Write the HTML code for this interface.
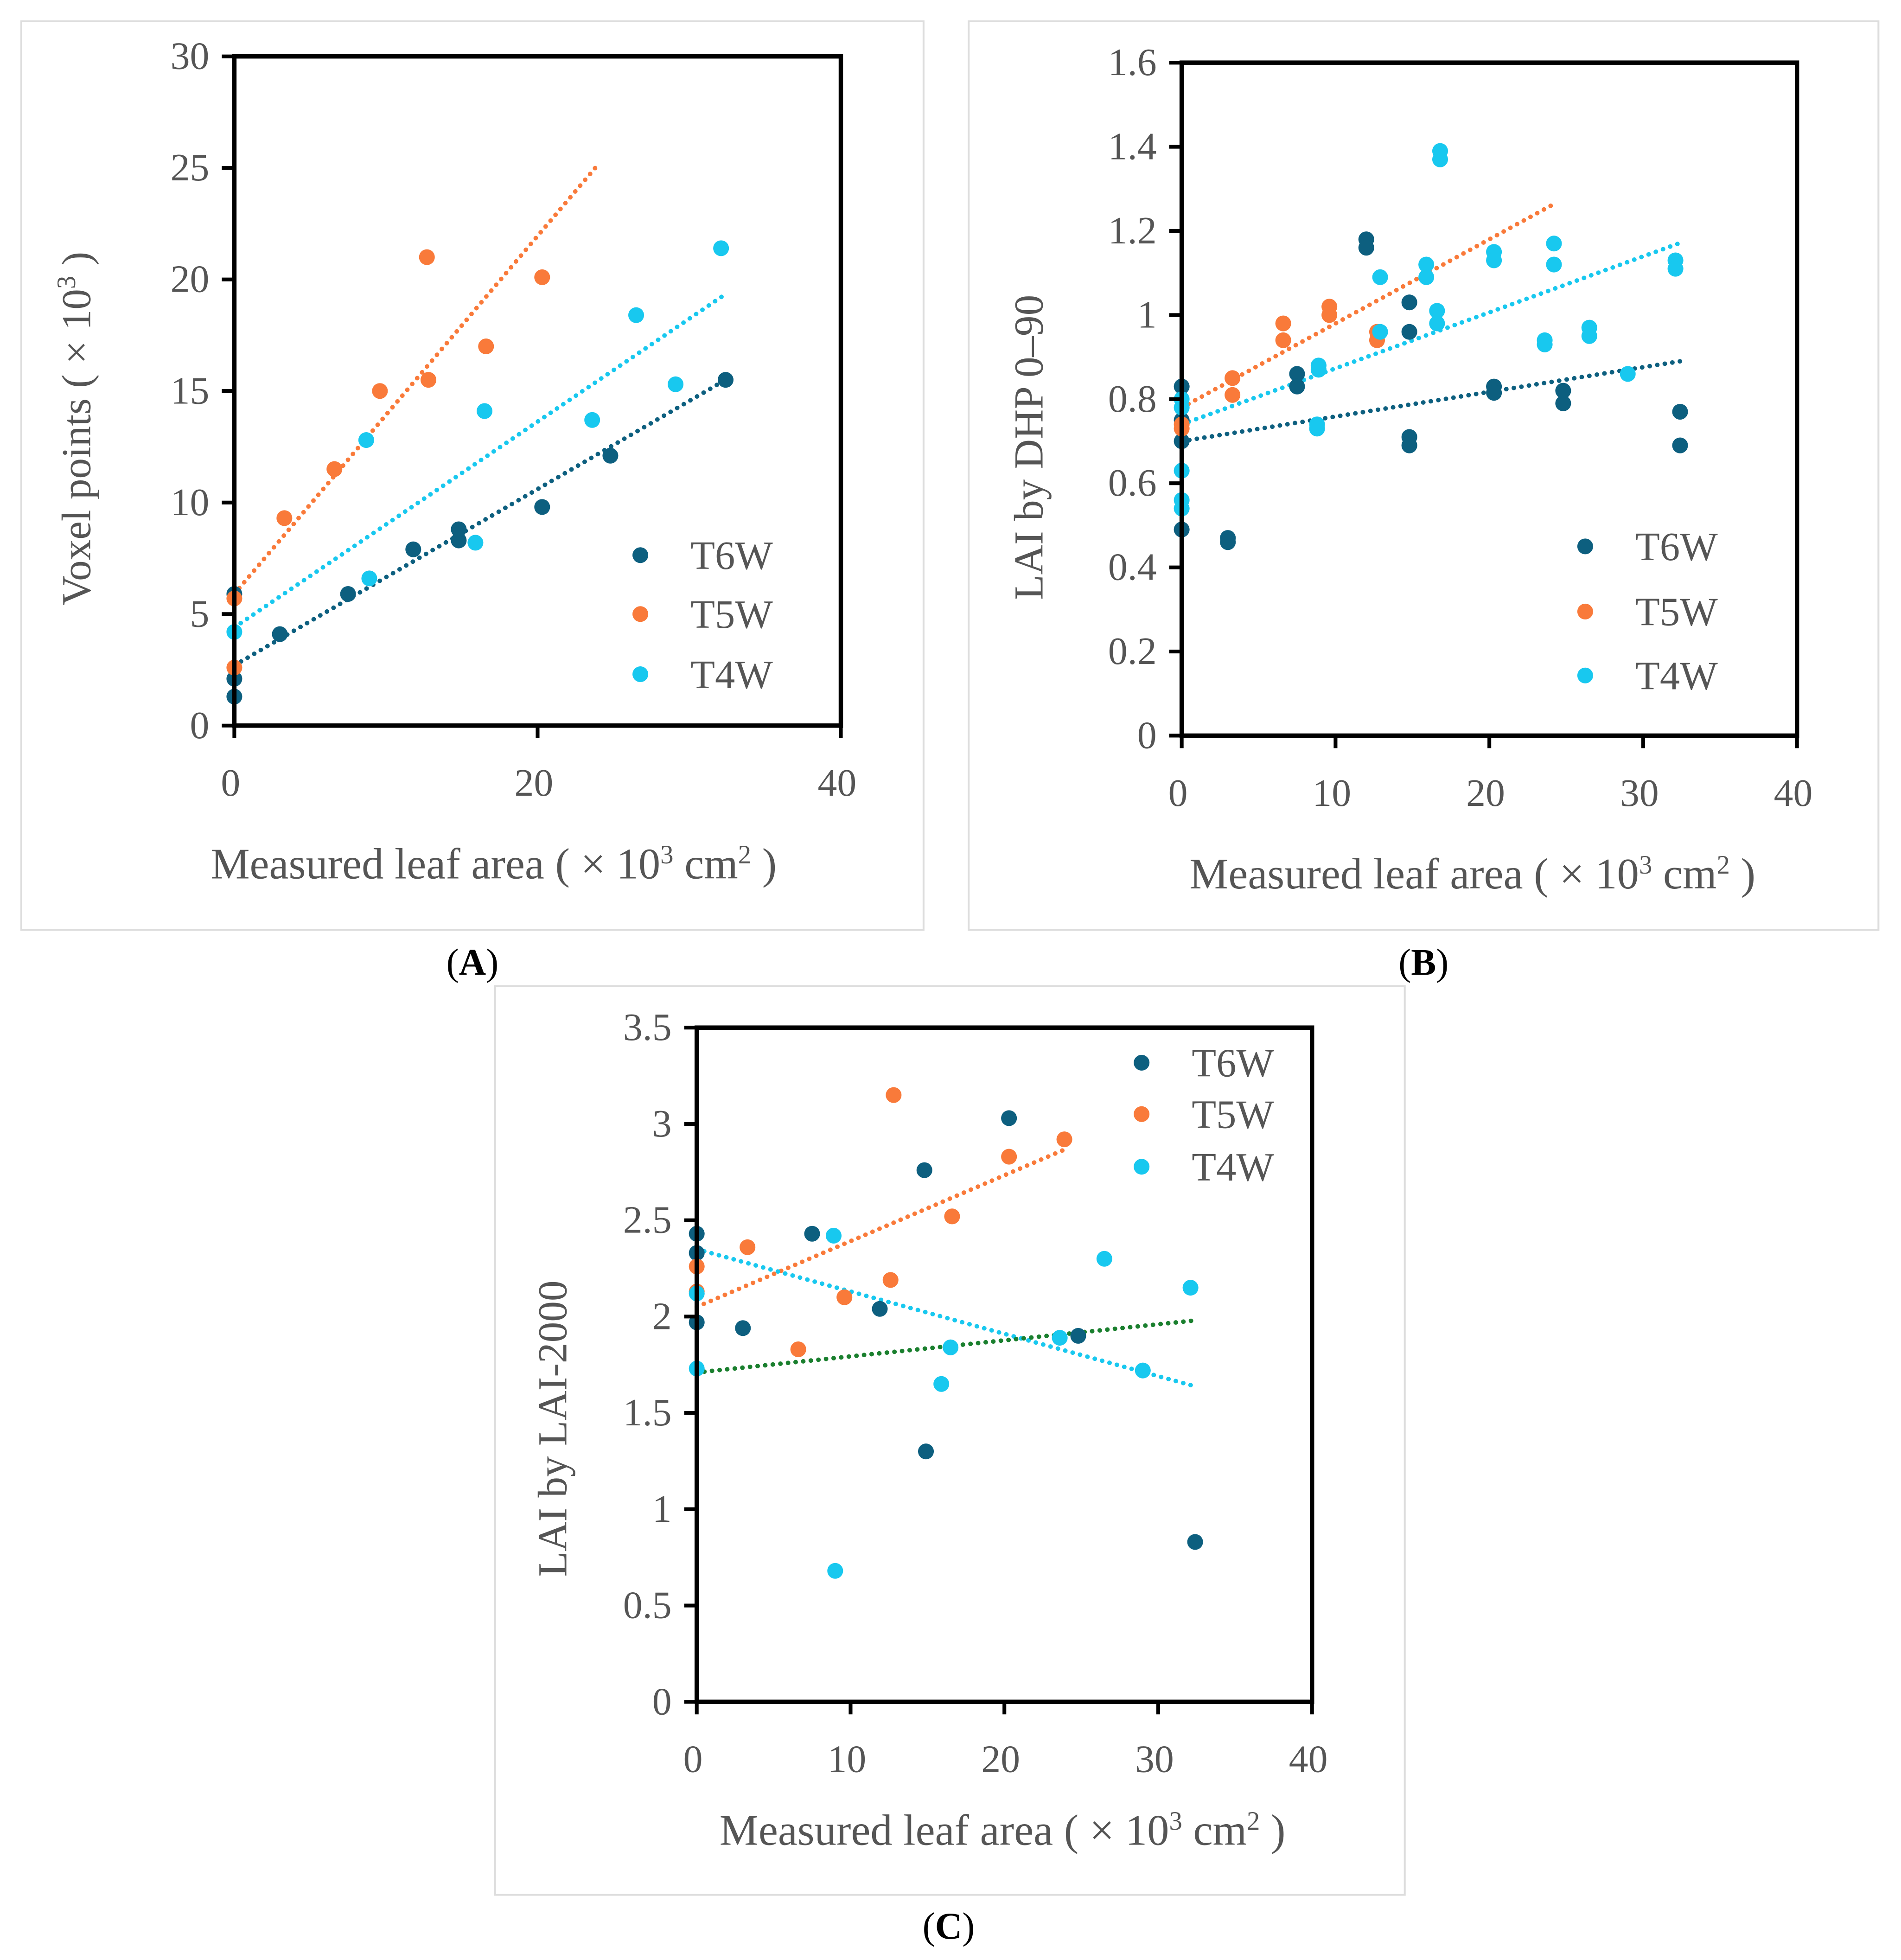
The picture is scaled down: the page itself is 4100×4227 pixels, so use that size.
<!DOCTYPE html>
<html><head><meta charset="utf-8"><style>
html,body{margin:0;padding:0;background:#fff;}
svg{display:block;}
text{font-family:"Liberation Serif",serif;fill:#555;}
</style></head><body>
<svg id="fig" width="4100" height="4227" viewBox="0 0 1517 1564" xmlns="http://www.w3.org/2000/svg">
<rect x="0" y="0" width="1517" height="1564" fill="#fff"/>
<g id="root"></g>
</svg>
<script>
// ---- Panel A data ----
const aT6x=[0,0,0,3,7.5,11.8,14.8,14.8,20.3,24.8,32.4];
const aT6y=[5.9,2.1,1.3,4.1,5.9,7.9,8.3,8.8,9.8,12.1,15.5];
const aT5x=[0,0,3.3,6.6,9.6,12.7,12.8,16.6,20.3];
const aT5y=[5.7,2.6,9.3,11.5,15.0,21.0,15.5,17.0,20.1];
const aT4x=[0,8.7,8.9,15.9,16.5,23.6,26.5,29.1,32.1];
const aT4y=[4.2,12.8,6.6,8.2,14.1,13.7,18.4,15.3,21.4];
const aTrendT6=[0,2.7,32.4,15.5];
const aTrendT5=[0,5.9,23.8,25];
const aTrendT4=[0,4.4,32.3,19.3];
const aYTicks=[0,5,10,15,20,25,30];
const aXTicks=[0,20,40];
// ---- Panel B data ----
const bT6x=[0,0,0,0,3,3,7.5,7.5,12,12,14.8,14.8,14.8,14.8,20.3,20.3,24.8,24.8,32.4,32.4];
const bT6y=[0.83,0.75,0.70,0.49,0.47,0.46,0.86,0.83,1.18,1.16,1.03,0.96,0.71,0.69,0.83,0.815,0.82,0.79,0.77,0.69];
const bT5x=[0,0,3.3,3.3,6.6,6.6,9.6,9.6,12.7,12.7];
const bT5y=[0.74,0.73,0.85,0.81,0.98,0.94,1.02,1.0,0.96,0.94];
const bT4x=[0,0,0,0,0,8.9,8.9,8.8,8.8,12.9,12.9,15.9,15.9,16.8,16.8,16.6,16.6,20.3,20.3,23.6,23.6,24.2,24.2,26.5,26.5,29,32.1,32.1];
const bT4y=[0.8,0.78,0.63,0.56,0.54,0.88,0.87,0.74,0.73,1.09,0.96,1.12,1.09,1.39,1.37,1.01,0.98,1.15,1.13,0.94,0.93,1.17,1.12,0.97,0.95,0.86,1.13,1.11];
const bTrendT6=[0,0.70,32.4,0.89];
const bTrendT5=[0,0.78,24,1.26];
const bTrendT4=[0,0.74,32.3,1.17];
const bYTicks=[0,0.2,0.4,0.6,0.8,1,1.2,1.4,1.6];
const bXTicks=[0,10,20,30,40];
// ---- Panel C data ----
const cT6x=[0,0,0,3,7.5,11.9,14.8,14.9,20.3,24.8,32.4];
const cT6y=[2.43,2.33,1.97,1.94,2.43,2.04,2.76,1.30,3.03,1.90,0.83];
const cT5x=[0,0,3.3,6.6,9.6,12.8,12.6,16.6,20.3,23.9];
const cT5y=[2.26,2.13,2.36,1.83,2.10,3.15,2.19,2.52,2.83,2.92];
const cT4x=[0,0,8.9,9,15.9,16.5,23.6,26.5,29,32.1];
const cT4y=[2.12,1.73,2.42,0.68,1.65,1.84,1.89,2.30,1.72,2.15];
const cTrendT5=[0,2.05,24,2.87];
const cTrendT4=[0,2.35,32.3,1.64];
const cTrendT6=[0,1.71,32.4,1.98];
const cYTicks=[0,0.5,1,1.5,2,2.5,3,3.5];
const cXTicks=[0,10,20,30,40];

const C6='#0d5f7f',C5='#f97a3a',C4='#18c8ef',CG='#1a7f2e';
const NS='http://www.w3.org/2000/svg';
const root=document.getElementById('root');
function mk(tag,attrs,parent){const e=document.createElementNS(NS,tag);for(const k in attrs)e.setAttribute(k,attrs[k]);(parent||root).appendChild(e);return e;}

function panel(cfg){
  const g=mk('g',{});
  
  
  const fr=mk('rect',{x:cfg.fx,y:cfg.fy,width:cfg.fw,height:cfg.fh,fill:'none',stroke:'#ddd','stroke-width':1.5},g);
  
  
  const sx=v=>cfg.x0+(v-0)/cfg.xmax*(cfg.x1-cfg.x0);
  const sy=v=>cfg.y0-(v/cfg.ymax)*(cfg.y0-cfg.y1);
  cfg.trends.forEach(t=>{
    const l=mk('line',{x1:sx(t.d[0]),y1:sy(t.d[1]),x2:sx(t.d[2]),y2:sy(t.d[3]),stroke:t.c,'stroke-width':3.6,'stroke-dasharray':'0.1 6','stroke-linecap':'round'},g);
    
    
  });
  cfg.series.forEach(s=>{
    s.x.forEach((xv,i)=>{
      const c=mk('circle',{cx:sx(xv),cy:sy(s.y[i]),r:6.3,fill:s.c},g);
      
      
    });
  });
  const bx=mk('rect',{x:cfg.x0,y:cfg.y1,width:cfg.x1-cfg.x0,height:cfg.y0-cfg.y1,fill:'none',stroke:'#000','stroke-width':3.5},g);
  
  
  cfg.yt.forEach(v=>{
    const t=mk('line',{x1:cfg.x0-10,x2:cfg.x0,y1:sy(v),y2:sy(v),stroke:'#000','stroke-width':3},g);
    
    
    const tx=mk('text',{x:cfg.x0-20,y:sy(v)+10,'text-anchor':'end','font-size':31},g);
    tx.textContent=String(v);
    
    
  });
  cfg.xt.forEach(v=>{
    const t=mk('line',{x1:sx(v),x2:sx(v),y1:cfg.y0,y2:cfg.y0+10,stroke:'#000','stroke-width':3},g);
    
    
    const tx=mk('text',{x:sx(v)-3,y:cfg.y0+56,'text-anchor':'middle','font-size':31},g);
    tx.textContent=String(v);
    
    
  });
  const xt=mk('text',{x:cfg.xtx,y:cfg.xty,'text-anchor':'middle','font-size':35},g);
  xt.innerHTML='Measured leaf area ( \u00d7 10<tspan dy="-12" font-size="21">3</tspan><tspan dy="12"> cm</tspan><tspan dy="-12" font-size="21">2</tspan><tspan dy="12"> )</tspan>';
  
  
  const yt=mk('text',{x:0,y:0,'text-anchor':'middle','font-size':33,transform:`translate(${cfg.ytx},${cfg.yty}) rotate(-90)`},g);
  yt.innerHTML=cfg.ytitle;
  
  
  cfg.series.forEach((s,i)=>{
    const c=mk('circle',{cx:cfg.lx,cy:cfg.ly[i],r:6.3,fill:s.c},g);
    
    
    const t=mk('text',{x:cfg.lx+40,y:cfg.ly[i]+11,'font-size':32},g);
    t.textContent=s.n;
    
    
  });
  const pl=mk('text',{x:cfg.plx,y:cfg.ply,'text-anchor':'middle','font-size':30},g);
  pl.innerHTML='(<tspan font-weight="bold" style="fill:#000">'+cfg.label+'</tspan>)';
  
  
  pl.style.fill='#000';
}

panel({name:'panel-a',fx:17,fy:17,fw:720,fh:725,x0:187,x1:671,xmax:40,y0:579,y1:45,ymax:30,
  yt:aYTicks,xt:aXTicks,
  series:[{n:'T6W',x:aT6x,y:aT6y,c:C6},{n:'T5W',x:aT5x,y:aT5y,c:C5},{n:'T4W',x:aT4x,y:aT4y,c:C4}],
  trends:[{n:'T6W',d:aTrendT6,c:C6},{n:'T5W',d:aTrendT5,c:C5},{n:'T4W',d:aTrendT4,c:C4}],
  xtx:394,xty:701,ytx:72,yty:342,ytitle:'Voxel points ( \u00d7 10<tspan dy="-12" font-size="21">3</tspan><tspan dy="12"> )</tspan>',
  lx:511,ly:[443,490,538],plx:377,ply:778,label:'A'});
panel({name:'panel-b',fx:773,fy:17,fw:726,fh:725,x0:943,x1:1434,xmax:40,y0:587,y1:50,ymax:1.6,
  yt:bYTicks,xt:bXTicks,
  series:[{n:'T6W',x:bT6x,y:bT6y,c:C6},{n:'T5W',x:bT5x,y:bT5y,c:C5},{n:'T4W',x:bT4x,y:bT4y,c:C4}],
  trends:[{n:'T6W',d:bTrendT6,c:C6},{n:'T5W',d:bTrendT5,c:C5},{n:'T4W',d:bTrendT4,c:C4}],
  xtx:1175,xty:709,ytx:832,yty:357,ytitle:'LAI by DHP 0\u201390',
  lx:1265,ly:[436,488,539],plx:1136,ply:778,label:'B'});
panel({name:'panel-c',fx:395,fy:787,fw:726,fh:725,x0:556,x1:1047,xmax:40,y0:1358,y1:820,ymax:3.5,
  yt:cYTicks,xt:cXTicks,
  series:[{n:'T6W',x:cT6x,y:cT6y,c:C6},{n:'T5W',x:cT5x,y:cT5y,c:C5},{n:'T4W',x:cT4x,y:cT4y,c:C4}],
  trends:[{n:'T5W',d:cTrendT5,c:C5},{n:'T4W',d:cTrendT4,c:C4},{n:'T6W',d:cTrendT6,c:CG}],
  xtx:800,xty:1472,ytx:452,yty:1140,ytitle:'LAI by LAI-2000',
  lx:911,ly:[848,889,931],plx:757,ply:1547,label:'C'});
</script>
</body></html>
